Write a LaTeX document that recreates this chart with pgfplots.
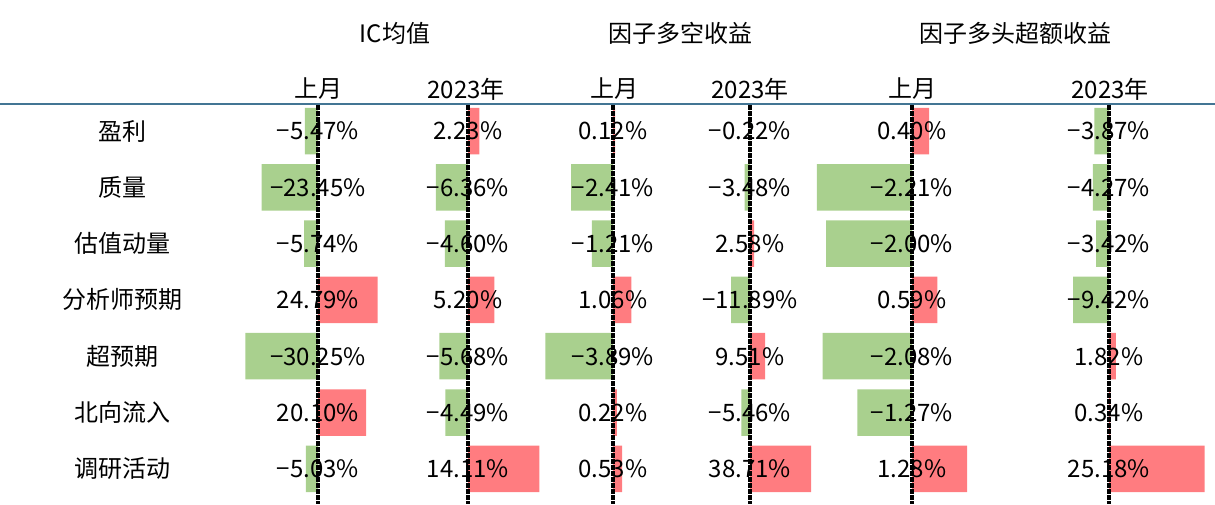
\documentclass[border=0pt]{standalone}
\usepackage{fontspec}
\setmainfont{Noto Sans CJK SC}
\usepackage{pgfplots}
\usepackage{pgfplotstable}
\pgfplotsset{compat=1.18}

\definecolor{negbar}{RGB}{169,208,142}
\definecolor{posbar}{RGB}{255,124,128}
\definecolor{rulecol}{RGB}{67,117,148}

% one table per column: row, value, printed label
\pgfplotstableread{
y v lab
0 -5.47 −5.47\%
1 -23.45 −23.45\%
2 -5.74 −5.74\%
3 24.79 24.79\%
4 -30.25 −30.25\%
5 20.10 20.10\%
6 -5.03 −5.03\%
}\icmonth
\pgfplotstableread{
y v lab
0 2.23 2.23\%
1 -6.36 −6.36\%
2 -4.60 −4.60\%
3 5.20 5.20\%
4 -5.68 −5.68\%
5 -4.49 −4.49\%
6 14.11 14.11\%
}\icyear
\pgfplotstableread{
y v lab
0 0.12 0.12\%
1 -2.41 −2.41\%
2 -1.21 −1.21\%
3 1.06 1.06\%
4 -3.89 −3.89\%
5 0.22 0.22\%
6 0.53 0.53\%
}\lsmonth
\pgfplotstableread{
y v lab
0 -0.22 −0.22\%
1 -3.48 −3.48\%
2 2.58 2.58\%
3 -11.89 −11.89\%
4 9.51 9.51\%
5 -5.46 −5.46\%
6 38.71 38.71\%
}\lsyear
\pgfplotstableread{
y v lab
0 0.40 0.40\%
1 -2.21 −2.21\%
2 -2.00 −2.00\%
3 0.59 0.59\%
4 -2.08 −2.08\%
5 -1.27 −1.27\%
6 1.28 1.28\%
}\exmonth
\pgfplotstableread{
y v lab
0 -3.87 −3.87\%
1 -4.27 −4.27\%
2 -3.42 −3.42\%
3 -9.42 −9.42\%
4 1.82 1.82\%
5 0.34 0.34\%
6 25.18 25.18\%
}\exyear

\pgfplotsset{
  cell/.style={
    at={(0,0)}, anchor=south west, scale only axis,
    width=607.5pt, height=252pt, hide axis, clip=false,
    y dir=reverse, ymin=-2.327, ymax=6.625,
  },
}

\newcommand\databars[1]{%
  \addplot[xbar, bar width=0.826, bar shift=0pt, fill=posbar, draw=none,
    restrict x to domain=0:1000] table[x=v, y=y] {#1};
  \addplot[xbar, bar width=0.826, bar shift=0pt, fill=negbar, draw=none,
    restrict x to domain=-1000:0] table[x=v, y=y] {#1};
  \draw[black, line width=1.6pt, dash pattern=on 2.2pt off 0.8pt]
    (axis cs:0,-0.46) -- (axis cs:0,6.625);
  \addplot[draw=none, mark=none, nodes near coords, point meta=explicit symbolic,
    nodes near coords align=center] table[x expr=0, y=y, meta=lab] {#1};
}

\begin{document}
\fontsize{12}{14}\selectfont
\begin{tikzpicture}[x=0.5pt, y=0.5pt]
\useasboundingbox (0,0) rectangle (1215,504);

\begin{axis}[cell, xmin=-132.5, xmax=373.75]
\databars{\icmonth}
\end{axis}
\begin{axis}[cell, xmin=-92.67, xmax=147.92]
\databars{\icyear}
\end{axis}
\begin{axis}[cell, xmin=-35.23, xmax=34.60]
\databars{\lsmonth}
\end{axis}
\begin{axis}[cell, xmin=-474.68, xmax=294.30]
\databars{\lsyear}
\end{axis}
\begin{axis}[cell, xmin=-21.209, xmax=7.047]
\databars{\exmonth}
\end{axis}
\begin{axis}[cell, xmin=-291.84, xmax=27.895]
\databars{\exyear}
\end{axis}

\draw[rulecol, line width=1.2pt] (0,{504-104}) -- (1215,{504-104});

\node at (395,{504-33}) {IC均值};
\node at (680,{504-33}) {因子多空收益};
\node at (1015,{504-33}) {因子多头超额收益};

\foreach \cx/\t in {318/上月, 466/2023年, 614/上月, 750/2023年, 912/上月, 1110/2023年}
  \node at (\cx,{504-89}) {\t};

\foreach \i/\t in {0/盈利, 1/质量, 2/估值动量, 3/分析师预期, 4/超预期, 5/北向流入, 6/调研活动}
  \node at (122,{504-131-56.3*\i}) {\t};
\end{tikzpicture}
\end{document}
